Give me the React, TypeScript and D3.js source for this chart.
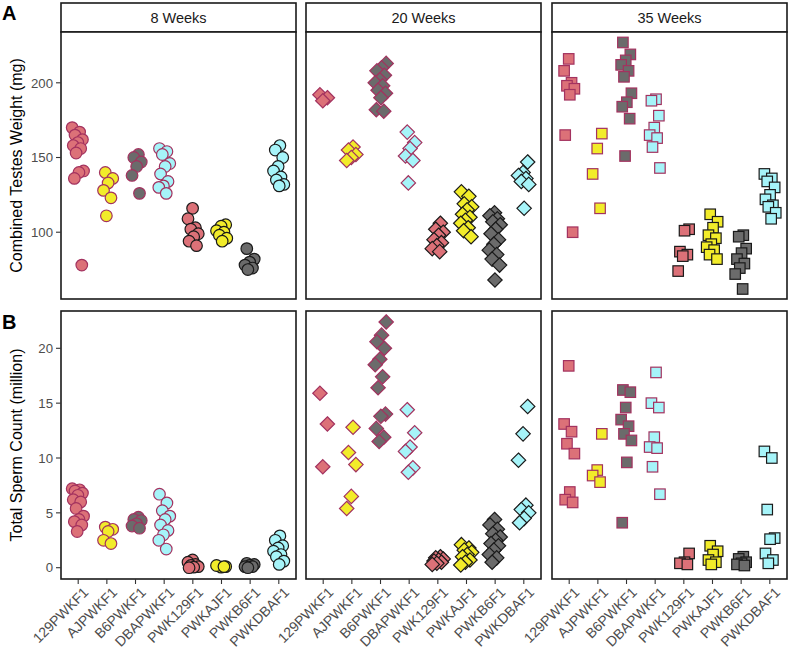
import React from "react";
import * as d3 from "d3";

const categories = ["129PWKF1", "AJPWKF1", "B6PWKF1", "DBAPWKF1", "PWK129F1", "PWKAJF1", "PWKB6F1", "PWKDBAF1"];
const weekLabels = ["8 Weeks", "20 Weeks", "35 Weeks"];
const weightTicks = [100, 150, 200];
const spermTicks = [0, 5, 10, 15, 20];

const weight8 = [
  [170, 167, 165, 162, 160, 158, 156, 153, 141, 140, 136, 78],
  [140, 136, 133, 128, 123, 111],
  [152, 150, 147, 144, 138, 126],
  [156, 154, 152, 146, 144, 139, 134, 131, 130, 126],
  [116, 109, 103, 102, 99, 97, 94, 91],
  [105, 104, 101, 100, 98, 96, 94],
  [89, 82, 80, 78, 76, 75],
  [158, 155, 150, 144, 141, 137, 135, 132, 131],
];
const weight20 = [
  [192, 190, 188],
  [157, 155, 152, 150, 148],
  [213, 210, 208, 205, 202, 200, 198, 195, 193, 190, 182, 181],
  [167, 160, 156, 151, 148, 133],
  [106, 102, 100, 98, 95, 93, 91, 89, 87],
  [127, 124, 119, 117, 115, 112, 110, 108, 106, 103, 101, 97],
  [113, 111, 109, 107, 105, 102, 99, 95, 92, 88, 85, 82, 78, 68],
  [147, 140, 138, 136, 134, 132, 116],
];
const weight35 = [
  [216, 208, 200, 198, 196, 192, 165, 100],
  [166, 156, 139, 116],
  [227, 219, 215, 212, 208, 204, 193, 187, 184, 176, 151],
  [189, 188, 178, 170, 165, 163, 157, 143],
  [102, 101, 87, 85, 84, 74],
  [112, 107, 103, 98, 96, 92, 90, 88, 85, 82],
  [98, 97, 89, 86, 82, 79, 76, 72, 62],
  [139, 136, 134, 130, 125, 122, 118, 117, 113, 109],
];
const sperm8 = [
  [7.2, 7.1, 7.0, 6.8, 6.6, 6.2, 6.0, 5.4, 4.7, 4.4, 4.2, 3.9, 3.3],
  [3.7, 3.5, 3.3, 2.5, 2.2],
  [4.6, 4.4, 4.3, 4.0, 3.8, 3.6],
  [6.7, 5.9, 5.2, 4.7, 4.4, 3.9, 3.4, 3.0, 2.5, 1.7],
  [0.7, 0.5, 0.3, 0.2, 0.1, 0.05, 0.0],
  [0.1, 0.05, 0.2, 0.1],
  [0.4, 0.3, 0.2, 0.1, 0.1, 0.0],
  [2.9, 2.5, 2.0, 1.8, 1.5, 1.2, 1.0, 0.6, 0.3],
];
const sperm20 = [
  [15.9, 13.1, 9.2],
  [12.8, 10.5, 9.4, 6.5, 5.4],
  [22.4, 21.2, 20.6, 20.0, 19.0, 18.5, 17.4, 16.4, 14.0, 13.8, 12.7, 11.9, 11.5],
  [14.4, 12.3, 11.0, 10.6, 9.1, 8.7],
  [1.0, 0.9, 0.8, 0.7, 0.6, 0.5, 0.4, 0.3],
  [2.1, 1.8, 1.6, 1.4, 1.2, 1.0, 0.7, 0.5, 0.25],
  [4.4, 3.9, 3.5, 3.1, 2.8, 2.5, 2.2, 2.0, 1.6, 1.2, 0.9, 0.5],
  [14.7, 12.2, 9.8, 5.7, 5.3, 5.0, 4.5, 4.1],
];
const sperm35 = [
  [18.4, 13.1, 12.4, 11.3, 10.4, 6.9, 6.2, 5.95],
  [12.2, 8.9, 8.4, 7.8],
  [16.2, 16.0, 14.6, 13.5, 12.9, 12.2, 11.6, 9.6, 4.1],
  [17.8, 15.0, 14.6, 11.9, 11.0, 10.9, 9.2, 6.7],
  [1.3, 0.5, 0.4, 0.3],
  [2.0, 1.5, 1.2, 0.7, 0.5, 0.3],
  [1.0, 0.8, 0.5, 0.4, 0.3, 0.2],
  [10.6, 10.0, 5.3, 2.7, 2.6, 1.3, 0.7, 0.4],
];

const fills = ["#DC7178", "#F2EC2A", "#6B6B6B", "#A6F4F9", "#DC7178", "#F2EC2A", "#6B6B6B", "#A6F4F9"];
const strokes = ["#A3325F", "#A3325F", "#A3325F", "#A3325F", "#1A1A1A", "#1A1A1A", "#1A1A1A", "#1A1A1A"];

const FONT = "'Liberation Sans', Arial, Helvetica, sans-serif";
const panelLefts = [61, 306, 552];
const panelW = 235;
const rowA = { top: 32, bottom: 299 };
const rowB = { top: 311, bottom: 579 };

const yA = d3.scaleLinear().domain([55.3, 234]).range([rowA.bottom, rowA.top]);
const yB = d3.scaleLinear().domain([-1.03, 23.4]).range([rowB.bottom, rowB.top]);

function Marker({ shape, x, y, fill, stroke }: any) {
  if (shape === 0) return <circle cx={x} cy={y} r={5.8} fill={fill} stroke={stroke} strokeWidth={1.2} />;
  if (shape === 1) {
    const h = 7.2;
    return (
      <path
        d={`M${x},${y - h}L${x + h},${y}L${x},${y + h}L${x - h},${y}Z`}
        fill={fill}
        stroke={stroke}
        strokeWidth={1.2}
      />
    );
  }
  const s = 10.5;
  return <rect x={x - s / 2} y={y - s / 2} width={s} height={s} fill={fill} stroke={stroke} strokeWidth={1.2} />;
}

function Panel({ pi, data, y, row, showX }: any) {
  const left = panelLefts[pi];
  const x = d3.scalePoint().domain(categories).range([left, left + panelW]).padding(0.6);
  const step = x.step();
  const marks: any[] = [];
  data.forEach((vals: number[], g: number) => {
    vals.forEach((v, i) => {
      const frac = (i * 0.618034 + g * 0.37 + pi * 0.23) % 1;
      const jx = (frac - 0.5) * 0.42 * step;
      marks.push(
        <Marker
          key={`${g}-${i}`}
          shape={pi}
          x={(x(categories[g]) as number) + jx}
          y={y(v)}
          fill={fills[g]}
          stroke={strokes[g]}
        />
      );
    });
  });
  return (
    <g>
      <rect x={left} y={row.top} width={panelW} height={row.bottom - row.top} fill="white" stroke="none" />
      {marks}
      <rect x={left} y={row.top} width={panelW} height={row.bottom - row.top} fill="none" stroke="#1a1a1a" strokeWidth={1.6} />
      {showX &&
        categories.map((c) => {
          const cx = x(c) as number;
          return (
            <g key={c}>
              <line x1={cx} x2={cx} y1={row.bottom} y2={row.bottom + 5} stroke="#333" strokeWidth={1.1} />
              <text
                transform={`translate(${cx + 4},${row.bottom + 7}) rotate(-45)`}
                textAnchor="end"
                dy="0.72em"
                fontFamily={FONT}
                fontSize={14}
                fill="#4D4D4D"
              >
                {c}
              </text>
            </g>
          );
        })}
    </g>
  );
}

function YAxis({ y, ticks }: any) {
  const left = panelLefts[0];
  return (
    <g>
      {ticks.map((t: number) => (
        <g key={t}>
          <line x1={left - 5} x2={left} y1={y(t)} y2={y(t)} stroke="#333" strokeWidth={1.1} />
          <text x={left - 8} y={y(t)} dy="0.36em" textAnchor="end" fontFamily={FONT} fontSize={13.2} fill="#4D4D4D">
            {t}
          </text>
        </g>
      ))}
    </g>
  );
}

export default function App() {
  const weights = [weight8, weight20, weight35];
  const sperms = [sperm8, sperm20, sperm35];
  return (
    <svg width={791} height={655} style={{ position: "absolute", left: 0, top: 0, background: "white" }}>
      <rect width={791} height={655} fill="white" />
      {weekLabels.map((w, i) => (
        <g key={w}>
          <rect x={panelLefts[i]} y={3} width={panelW} height={29} fill="white" stroke="#1a1a1a" strokeWidth={1.6} />
          <text
            x={panelLefts[i] + panelW / 2}
            y={17.5}
            dy="0.36em"
            textAnchor="middle"
            fontFamily={FONT}
            fontSize={14.5}
            fill="#1a1a1a"
          >
            {w}
          </text>
        </g>
      ))}
      {weights.map((d, i) => (
        <Panel key={"a" + i} pi={i} data={d} y={yA} row={rowA} showX={false} />
      ))}
      {sperms.map((d, i) => (
        <Panel key={"b" + i} pi={i} data={d} y={yB} row={rowB} showX={true} />
      ))}
      <YAxis y={yA} ticks={weightTicks} />
      <YAxis y={yB} ticks={spermTicks} />
      <text
        transform={`translate(22,${(rowA.top + rowA.bottom) / 2}) rotate(-90)`}
        textAnchor="middle"
        fontFamily={FONT}
        fontSize={16}
        fill="#000"
      >
        Combined Testes Weight (mg)
      </text>
      <text
        transform={`translate(22,${(rowB.top + rowB.bottom) / 2}) rotate(-90)`}
        textAnchor="middle"
        fontFamily={FONT}
        fontSize={16}
        fill="#000"
      >
        Total Sperm Count (million)
      </text>
      <text x={2} y={20} fontFamily={FONT} fontSize={20} fontWeight="bold" fill="#000">
        A
      </text>
      <text x={2} y={329} fontFamily={FONT} fontSize={20} fontWeight="bold" fill="#000">
        B
      </text>
    </svg>
  );
}
